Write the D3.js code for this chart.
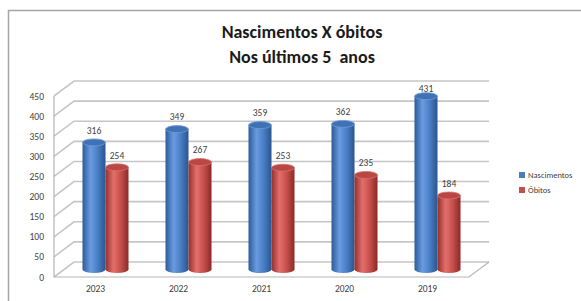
<!DOCTYPE html>
<html>
<script src='https://d3js.org/d3.v7.min.js'></script>
<style>
  html, body { margin: 0; padding: 0; background: #fff; }
  text { font-family: Carlito, Lato, 'Liberation Sans', sans-serif; }
  .titulo { white-space: pre; }
</style>
<body>
<div id="vis"></div>
</body>
<script>
var anos = ['2023', '2022', '2021', '2020', '2019'];
var nascimentos = [316, 349, 359, 362, 431];
var obitos = [254, 267, 253, 235, 184];
var series = ['Nascimentos', 'Óbitos'];
var yTicks = [0, 50, 100, 150, 200, 250, 300, 350, 400, 450];
var titulo = ['Nascimentos X óbitos', 'Nos últimos 5  anos'];

var width = 581, height = 301;
var depth = {dx: 20, dy: -15};

var svg = d3.select('#vis')
    .append('svg')
    .attr('width', width)
    .attr('height', height);

// gradients for the cylinders
var colours = {
    'Nascimentos': ['#2b5b99', '#6a9be0', '#4a7fc6', '#2a558f'],
    'Óbitos': ['#93302d', '#e26f6b', '#c8504c', '#8a2a27']
};
var defs = svg.append('defs');
series.forEach(function(s, i) {
    var g = defs.append('linearGradient')
        .attr('id', 'grad' + i)
        .attr('x1', '0%').attr('x2', '100%');
    var c = colours[s];
    g.append('stop').attr('offset', '0%').attr('stop-color', c[0]);
    g.append('stop').attr('offset', '35%').attr('stop-color', c[1]);
    g.append('stop').attr('offset', '65%').attr('stop-color', c[2]);
    g.append('stop').attr('offset', '100%').attr('stop-color', c[3]);
});

// chart border
svg.append('rect')
    .attr('x', 8.5).attr('y', 10.5)
    .attr('width', 600).attr('height', 320)
    .attr('fill', '#fff')
    .attr('stroke', '#a5a5a5')
    .attr('stroke-width', 1.5);

// title
svg.append('g').selectAll('text')
    .data(titulo)
    .enter().append('text')
    .attr('class', 'titulo')
    .attr('x', 302)
    .attr('y', function(d, i) { return 38 + i * 25; })
    .attr('text-anchor', 'middle')
    .attr('font-size', 18)
    .attr('font-weight', 'bold')
    .attr('fill', '#1a1a1a')
    .text(function(d) { return d; });

// scales: back wall, front plane and mid plane (bars)
var yBack = d3.scaleLinear().domain([0, 450]).range([262, 81]);
var yFront = d3.scaleLinear().domain([0, 450]).range([262 - depth.dy, 81 - depth.dy]);
var yMid = d3.scaleLinear().domain([0, 450]).range([262 - depth.dy / 2, 81 - depth.dy / 2]);

var xFront = d3.scaleBand().domain(anos).range([54, 469]);
var xMid = d3.scaleBand().domain(anos).range([64, 479]);
var xInner = d3.scaleBand().domain(series).range([0, 46]);

var x0 = 54, xb = 74, xEnd = 489;

// grid lines on left wall + back wall
svg.append('g').selectAll('path')
    .data(yTicks)
    .enter().append('path')
    .attr('d', function(t) {
        return 'M' + x0 + ',' + yFront(t) + 'L' + xb + ',' + yBack(t) + 'L' + xEnd + ',' + yBack(t);
    })
    .attr('fill', 'none')
    .attr('stroke', '#c6c6c6')
    .attr('stroke-width', 1.6);

// left wall front edge and floor
svg.append('path')
    .attr('d', 'M' + x0 + ',' + yFront(450) + 'L' + x0 + ',' + yFront(0) + 'L' + (xEnd - depth.dx) + ',' + yFront(0) + 'L' + xEnd + ',' + yBack(0))
    .attr('fill', 'none')
    .attr('stroke', '#b5b5b5')
    .attr('stroke-width', 1.2);

// axes
var yAxis = d3.axisLeft(yFront).tickValues(yTicks).tickSize(0).tickPadding(0);
svg.append('g')
    .attr('transform', 'translate(44,0)')
    .call(yAxis)
    .call(function(g) { g.select('.domain').remove(); })
    .selectAll('text')
    .attr('font-size', 9.5)
    .attr('fill', '#404040');

var xAxis = d3.axisBottom(xFront).tickSize(0).tickPadding(8);
svg.append('g')
    .attr('transform', 'translate(0,' + yFront(0) + ')')
    .call(xAxis)
    .call(function(g) { g.select('.domain').remove(); })
    .selectAll('text')
    .attr('font-size', 9.5)
    .attr('fill', '#404040');

// bars as cylinders
var rows = [];
anos.forEach(function(a, i) {
    rows.push({ano: a, serie: 'Nascimentos', value: nascimentos[i], k: 0});
    rows.push({ano: a, serie: 'Óbitos', value: obitos[i], k: 1});
});

var bw = xInner.bandwidth();
var rx = bw / 2, ry = 3.5;
function cx(d) {
    return xMid(d.ano) + (xMid.bandwidth() - 46) / 2 + xInner(d.serie) + rx;
}

var bars = svg.append('g').selectAll('g')
    .data(rows)
    .enter().append('g');

bars.append('ellipse')
    .attr('cx', cx)
    .attr('cy', yMid(0))
    .attr('rx', rx).attr('ry', ry)
    .attr('fill', function(d) { return 'url(#grad' + d.k + ')'; });

bars.append('rect')
    .attr('x', function(d) { return cx(d) - rx; })
    .attr('y', function(d) { return yMid(d.value); })
    .attr('width', bw)
    .attr('height', function(d) { return yMid(0) - yMid(d.value); })
    .attr('fill', function(d) { return 'url(#grad' + d.k + ')'; });

bars.append('ellipse')
    .attr('cx', cx)
    .attr('cy', function(d) { return yMid(d.value); })
    .attr('rx', rx).attr('ry', ry)
    .attr('fill', function(d) { return d.k == 0 ? '#3f72b5' : '#b94743'; })
    .attr('stroke', function(d) { return d.k == 0 ? '#6d9ad6' : '#d9716d'; })
    .attr('stroke-width', 0.8);

// value labels
bars.append('text')
    .attr('x', cx)
    .attr('y', function(d) { return Math.max(yMid(d.value) - 12, 89); })
    .attr('dy', '0.35em')
    .attr('text-anchor', 'middle')
    .attr('font-size', 9.5)
    .attr('fill', '#404040')
    .text(function(d) { return d.value; });

// legend
var legend = svg.append('g').selectAll('g')
    .data(series)
    .enter().append('g')
    .attr('transform', function(d, i) { return 'translate(519,' + (175 + i * 15) + ')'; });

legend.append('rect')
    .attr('x', 0).attr('y', -3)
    .attr('width', 6).attr('height', 6)
    .attr('fill', function(d, i) { return i == 0 ? '#4a7ebb' : '#c0504d'; });

legend.append('text')
    .attr('x', 9)
    .attr('dy', '0.35em')
    .attr('font-size', 8.5)
    .attr('fill', '#404040')
    .text(function(d) { return d; });
</script>
</html>
